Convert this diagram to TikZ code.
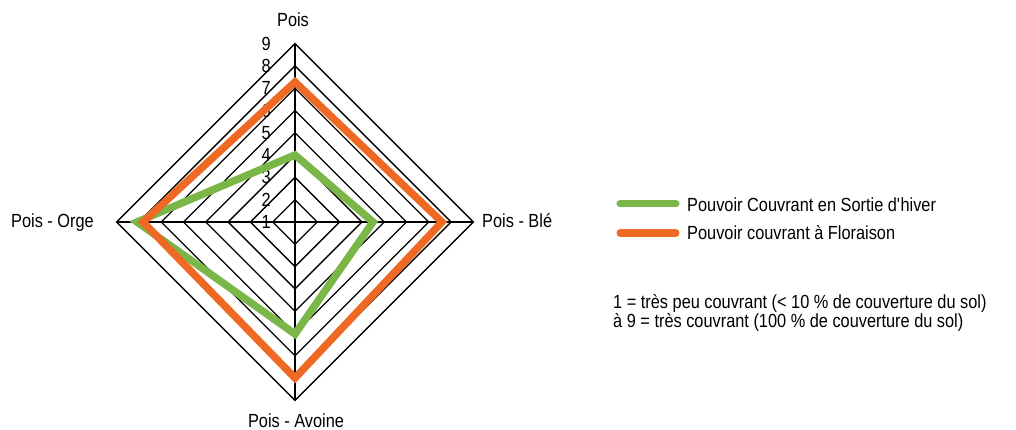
\documentclass[tikz,border=0pt]{standalone}
\usepackage{fontspec}
\setmainfont[FakeStretch=0.86]{Liberation Sans}
\definecolor{cgreen}{HTML}{7AB648}
\definecolor{corange}{HTML}{EE6A24}
\begin{document}
\begin{tikzpicture}[x=1pt,y=-1pt,
  lbl/.style={font=\fontsize{19}{21}\selectfont,inner sep=0pt},
  grid/.style={line width=1.3pt,black},
  serie/.style={line width=7.5pt,line join=miter},
  leg/.style={line width=7pt,line cap=round}]
\useasboundingbox (0,0) rectangle (1016,430);
\coordinate (c) at (295,222);
% rings
\foreach \k in {1,...,8}{
  \draw[grid] (295,222-22.3*\k) -- (295+22.3*\k,222) -- (295,222+22.3*\k) -- (295-22.3*\k,222) -- cycle;
}
\coordinate (top) at (295,43.6);
\coordinate (right) at (473.4,222);
\coordinate (bottom) at (295,400.4);
\coordinate (left) at (116.6,222);
\draw[grid] (top) -- (bottom);
\draw[grid] (left) -- (right);
% scale labels
\foreach \k in {1,...,9}{
  \node[lbl,anchor=east] (s\k) at (271,222-22.3*\k+22.3) {\k};
}
% series
\coordinate (g1) at (295,155);
\coordinate (g2) at (373,222);
\coordinate (g3) at (295,334);
\coordinate (g4) at (137,222);
\coordinate (o1) at (295,82);
\coordinate (o2) at (442,222);
\coordinate (o3) at (295,378);
\coordinate (o4) at (143,222);
\draw[serie,cgreen] (g1) -- (g2) -- (g3) -- (g4) -- cycle;
\draw[serie,corange] (o1) -- (o2) -- (o3) -- (o4) -- cycle;
% axis labels
\node[lbl,anchor=base] (pois) at (293,27) {Pois};
\node[lbl,anchor=base east] (orge) at (94,228) {Pois - Orge};
\node[lbl,anchor=base west] (ble) at (482,228) {Pois - Blé};
\node[lbl,anchor=base] (avoine) at (296,427) {Pois - Avoine};
% legend
\coordinate (l1a) at (620,204);
\coordinate (l1b) at (676,204);
\coordinate (l2a) at (620,233);
\coordinate (l2b) at (676,233);
\draw[leg,cgreen] (l1a) -- (l1b);
\draw[leg,corange] (l2a) -- (l2b);
\node[lbl,anchor=base west] (t1) at (687,212) {Pouvoir Couvrant en Sortie d\textquotesingle hiver};
\node[lbl,anchor=base west] (t2) at (687,240) {Pouvoir couvrant à Floraison};
\node[lbl,anchor=base west] (n1) at (613,308) {1 = très peu couvrant (< 10 \% de couverture du sol)};
\node[lbl,anchor=base west] (n2) at (613,327) {à 9 = très couvrant (100 \% de couverture du sol)};
\end{tikzpicture}
\end{document}
